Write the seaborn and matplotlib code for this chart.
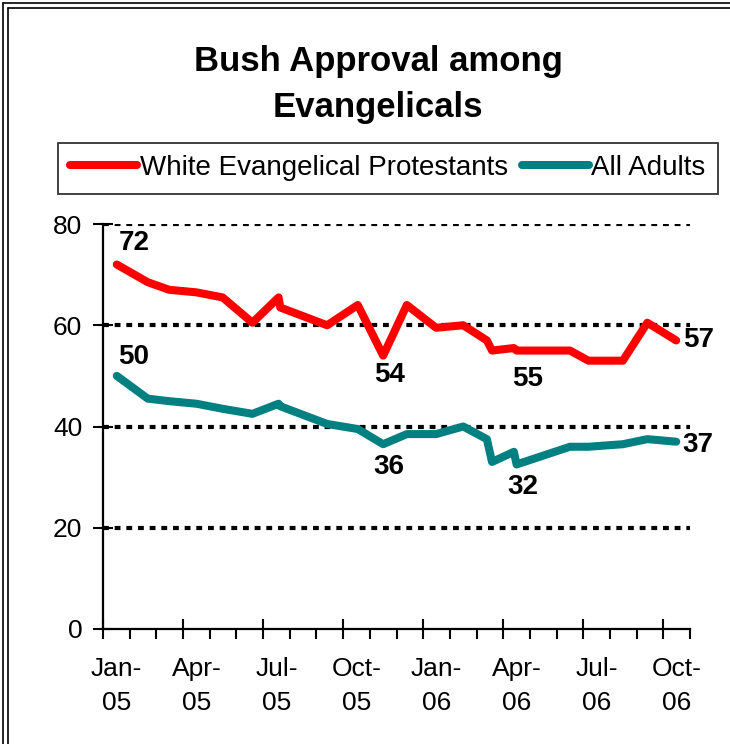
import matplotlib
matplotlib.use("Agg")
import matplotlib.pyplot as plt
from matplotlib.lines import Line2D
from matplotlib import font_manager
import seaborn as sns
import pandas as pd
import numpy as np

# ---------------- data ----------------
poll_dates = ["2005-01-17", "2005-02-20", "2005-03-16", "2005-04-16", "2005-05-16",
              "2005-06-19", "2005-07-19", "2005-07-21", "2005-09-13", "2005-10-18",
              "2005-11-16", "2005-12-13", "2006-01-16", "2006-02-15", "2006-03-13",
              "2006-03-19", "2006-04-13", "2006-04-16", "2006-06-16", "2006-07-07",
              "2006-08-16", "2006-09-13", "2006-10-16"]
white_evangelical = [72, 68.5, 67, 66.5, 65.5, 60.5, 65.5, 63.5, 60, 64,
                     54, 64, 59.5, 60, 57, 55, 55.5, 55, 55, 53,
                     53, 60.5, 57]
all_adults = [50, 45.5, 45, 44.5, 43.5, 42.5, 44.5, 44, 40.5, 39.5,
              36.5, 38.5, 38.5, 40, 37.5, 33, 35, 32.5, 36, 36,
              36.5, 37.5, 37]
series_names = ["White Evangelical Protestants", "All Adults"]
series_colors = ["#FF0000", "#008080"]
tick_labels = ["Jan-\n05", "Apr-\n05", "Jul-\n05", "Oct-\n05",
               "Jan-\n06", "Apr-\n06", "Jul-\n06", "Oct-\n06"]
y_ticks = [0, 20, 40, 60, 80]
# data labels: (series, poll index, text)
point_labels = [(0, 0, "72"), (1, 0, "50"), (0, 10, "54"), (0, 17, "55"),
                (0, 22, "57"), (1, 10, "36"), (1, 17, "32"), (1, 22, "37")]
title = "Bush Approval among\nEvangelicals"


def month_pos(s):
    d = pd.Timestamp(s)
    return (d.year - 2005) * 12 + (d.month - 1) + (d.day - 1) / d.days_in_month


xpos = [month_pos(s) for s in poll_dates]
df = pd.DataFrame({
    "x": xpos * 2,
    "value": white_evangelical + all_adults,
    "series": [series_names[0]] * len(xpos) + [series_names[1]] * len(xpos),
})

# ---------------- style ----------------
sns.set_style("white")
installed = {f.name for f in font_manager.fontManager.ttflist}
narrow = "Liberation Sans Narrow" if "Liberation Sans Narrow" in installed else "Liberation Sans"
plt.rcParams["font.family"] = [narrow, "DejaVu Sans"]
plt.rcParams["text.color"] = "black"
plt.rcParams["xtick.color"] = "black"
plt.rcParams["ytick.color"] = "black"
plt.rcParams["axes.labelcolor"] = "black"

fig = plt.figure(figsize=(7.3, 7.44), dpi=100)
ax = fig.add_axes([103 / 730, 1 - 629 / 744, (690 - 103) / 730, (629 - 224) / 744])

sns.lineplot(data=df, x="x", y="value", hue="series", palette=series_colors,
             hue_order=series_names, linewidth=5.8, estimator=None, sort=False,
             legend=False, ax=ax)

ax.set_xlim(0, 22)
ax.set_ylim(0, 80)
ax.set_xlabel("")
ax.set_ylabel("")

# gridlines
for yv in y_ticks[1:]:
    ax.axhline(yv, color="black", lw=3.0, linestyle=(0, (1.4, 1.4)), zorder=0.5)

for side in ["top", "right"]:
    ax.spines[side].set_visible(False)
for side in ["left", "bottom"]:
    ax.spines[side].set_color("black")
    ax.spines[side].set_linewidth(1.6)

ax.set_yticks(y_ticks)
ax.set_yticklabels([str(v) for v in y_ticks])
ax.tick_params(axis="y", left=True, direction="inout", length=14, width=1.5,
               labelsize=19, pad=8, colors="black")
ax.set_xticks(np.arange(0, 22, 3))
ax.set_xticklabels([])
ax.set_xticks(np.arange(0, 23, 1), minor=True)
ax.tick_params(axis="x", which="major", bottom=True, direction="inout", length=14, width=1.5)
ax.tick_params(axis="x", which="minor", bottom=True, direction="out", length=7, width=1.5)

sec = ax.secondary_xaxis("bottom")
sec.set_xticks(np.arange(0.5, 22, 3))
sec.set_xticklabels(tick_labels)
sec.tick_params(length=0, labelsize=19, pad=20, colors="black")
for t in sec.get_xticklabels():
    t.set_linespacing(1.55)
sec.spines["bottom"].set_visible(False)

# data labels
offsets = {"72": (17, 21), "50": (17, 19), "54": (6, -19), "55": (11, -28),
           "57": (22, 0), "36": (6, -23), "32": (6, -23), "37": (22, -3)}
series_vals = [white_evangelical, all_adults]
for s, i, txt in point_labels:
    ax.annotate(txt, (xpos[i], series_vals[s][i]), xytext=offsets[txt],
                textcoords="offset pixels", ha="center", va="center",
                fontsize=20, fontweight="bold", color="black",
                family=["Liberation Sans", "DejaVu Sans"])

# title
fig.text(378 / 730, 1 - 84 / 744, title, ha="center", va="center", fontsize=25,
         fontweight="bold", linespacing=1.5, family=["Liberation Sans", "DejaVu Sans"])

# legend
handles = [Line2D([0], [0], color=c, lw=5.8) for c in series_colors]
leg = fig.legend(handles, series_names, loc="center", ncol=2,
                 bbox_to_anchor=(388 / 730, 1 - 168 / 744), fontsize=20,
                 frameon=True, fancybox=False, edgecolor="black", handlelength=2.4,
                 handletextpad=0.1, columnspacing=0.5, borderpad=0.45, borderaxespad=0)
leg.get_frame().set_linewidth(1.3)

# double border
for p in (3, 8):
    fig.add_artist(Line2D([p / 730, p / 730], [0, 1 - p / 744], color="black", lw=1.2,
                          transform=fig.transFigure))
    fig.add_artist(Line2D([p / 730, 1], [1 - p / 744, 1 - p / 744], color="black", lw=1.2,
                          transform=fig.transFigure))

fig.savefig("out.png", dpi=100, facecolor="white")
